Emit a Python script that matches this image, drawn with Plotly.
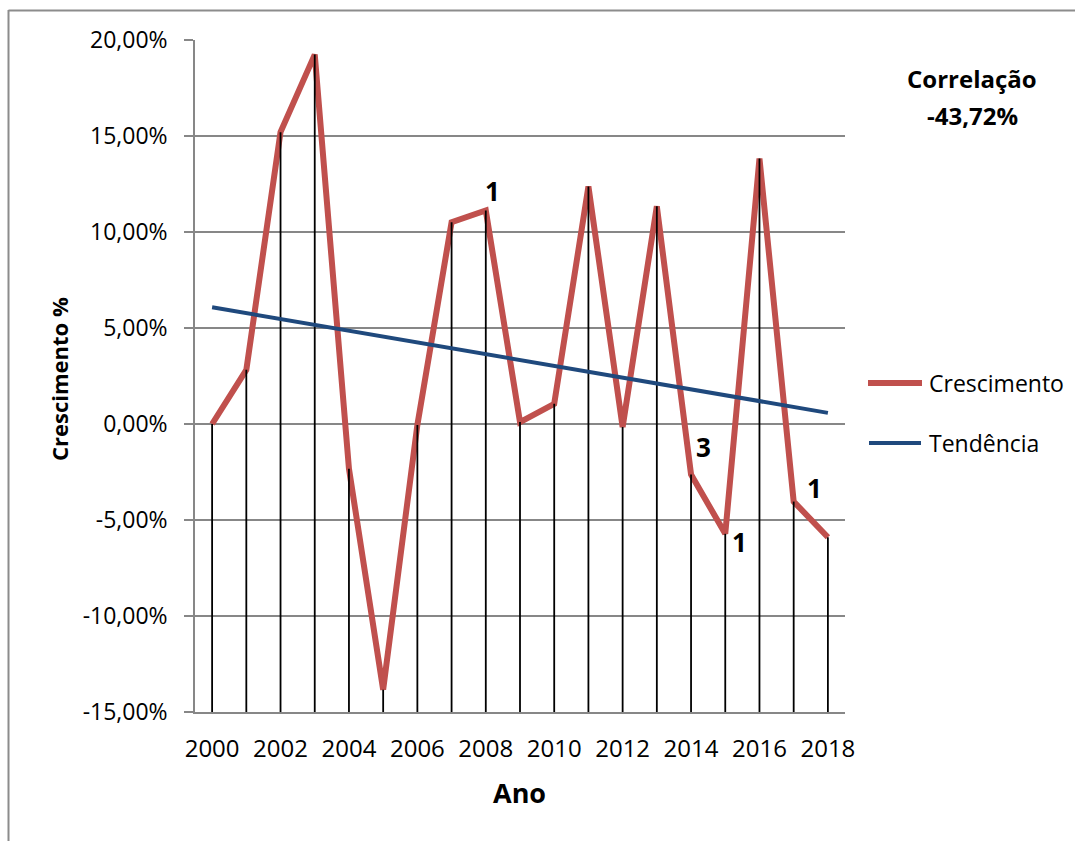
import plotly.graph_objects as go

# ---- data ----
anos = list(range(2000, 2019))
crescimento = [0.0, 2.82, 15.2, 19.24, -2.33, -13.84, -0.05, 10.51, 11.12, 0.1,
               1.05, 12.37, -0.16, 11.34, -2.63, -5.72, 13.83, -4.04, -5.9]
tendencia_x = [2000, 2018]
tendencia_y = [6.08, 0.58]
rotulos_anos = [2008, 2014, 2015, 2017]
rotulos_texto = ["1", "3", "1", "1"]
ytick_vals = [-15, -10, -5, 0, 5, 10, 15, 20]
ytick_text = ["-15,00%", "-10,00%", "-5,00%", "0,00%", "5,00%", "10,00%", "15,00%", "20,00%"]
xtick_vals = list(range(2000, 2019, 2))
xtick_text = [str(v) for v in xtick_vals]
series_names = ["Crescimento", "Tendência"]
correlacao = ["Correlação", "-43,72%"]

RED = "#C0504D"
BLUE = "#1F497D"
GRID = "#878787"
FONT = "Open Sans"

fig = go.Figure()

fig.add_trace(go.Scatter(x=anos, y=crescimento, mode="lines", name=series_names[0],
                         line=dict(color=RED, width=6), showlegend=False))

# drop lines
dx, dy = [], []
for a, v in zip(anos, crescimento):
    dx += [a, a, None]
    dy += [v, ytick_vals[0], None]
fig.add_trace(go.Scatter(x=dx, y=dy, mode="lines", line=dict(color="black", width=1.8),
                         showlegend=False, hoverinfo="skip"))

fig.add_trace(go.Scatter(x=tendencia_x, y=tendencia_y, mode="lines", name=series_names[1],
                         line=dict(color=BLUE, width=4), showlegend=False))

L, R, T, B = 195, 230, 40, 129
W, H = 1075, 841
PW, PH = W - L - R, H - T - B


def px(x):
    return (x - L) / PW


def py(y):
    return (H - B - y) / PH


annotations = []
# data labels
offsets = {2008: (7, 20), 2014: (12, 28), 2015: (14, -8), 2017: (21, 14)}
for a, t in zip(rotulos_anos, rotulos_texto):
    v = crescimento[anos.index(a)]
    ox, oy = offsets[a]
    annotations.append(dict(x=a, y=v, xref="x", yref="y", text=t, showarrow=False,
                            xshift=ox, yshift=oy,
                            font=dict(family=FONT, size=26, color="black", weight="bold")))

# axis titles
annotations.append(dict(x=px(59), y=py(379), xref="paper", yref="paper", text="Crescimento %",
                        textangle=-90, showarrow=False, xanchor="center", yanchor="middle",
                        font=dict(family=FONT, size=22, color="black", weight="bold")))
annotations.append(dict(x=px(519), y=py(792), xref="paper", yref="paper", text="Ano",
                        showarrow=False, xanchor="center", yanchor="middle",
                        font=dict(family=FONT, size=27, color="black", weight="bold")))
# correlation text
annotations.append(dict(x=px(972), y=py(78.5), xref="paper", yref="paper", text=correlacao[0],
                        showarrow=False, xanchor="center", yanchor="middle",
                        font=dict(family=FONT, size=24, color="black", weight="bold")))
annotations.append(dict(x=px(972), y=py(115.5), xref="paper", yref="paper", text=correlacao[1],
                        showarrow=False, xanchor="center", yanchor="middle",
                        font=dict(family=FONT, size=24, color="black", weight="bold")))
# legend texts
for name, ly in zip(series_names, [383, 443]):
    annotations.append(dict(x=px(927), y=py(ly), xref="paper", yref="paper", text=name,
                            showarrow=False, xanchor="left", yanchor="middle",
                            font=dict(family=FONT, size=23, color="black")))

shapes = [
    # outer border
    dict(type="line", xref="paper", yref="paper", x0=px(8.5), x1=px(1080), y0=py(10.5), y1=py(10.5),
         line=dict(color="#8C8C8C", width=2)),
    dict(type="line", xref="paper", yref="paper", x0=px(8.5), x1=px(8.5), y0=py(10), y1=py(850),
         line=dict(color="#8C8C8C", width=2)),
    # legend samples
    dict(type="line", xref="paper", yref="paper", x0=px(868), x1=px(922), y0=py(383), y1=py(383),
         line=dict(color=RED, width=6)),
    dict(type="line", xref="paper", yref="paper", x0=px(869), x1=px(921), y0=py(443), y1=py(443),
         line=dict(color=BLUE, width=4)),
]

fig.update_layout(
    width=W, height=H,
    margin=dict(l=L, r=R, t=T, b=B, pad=0),
    paper_bgcolor="white", plot_bgcolor="white",
    font=dict(family=FONT, color="black"),
    showlegend=False,
    annotations=annotations,
    shapes=shapes,
    xaxis=dict(range=[1999.5, 2018.5], tickvals=xtick_vals, ticktext=xtick_text,
               showgrid=False, zeroline=False, showline=True, linecolor=GRID, linewidth=1.5,
               ticks="", tickfont=dict(family=FONT, size=24, color="black"),
               ticklabelstandoff=14),
    yaxis=dict(range=[-15, 20], tickvals=ytick_vals, ticktext=ytick_text,
               showgrid=True, gridcolor=GRID, gridwidth=1.5, zeroline=False,
               showline=True, linecolor=GRID, linewidth=1.5,
               ticks="outside", ticklen=9, tickcolor=GRID, tickwidth=1.5,
               tickfont=dict(family=FONT, size=23, color="black"),
               ticklabelstandoff=12),
)

fig.write_html("out.html")
